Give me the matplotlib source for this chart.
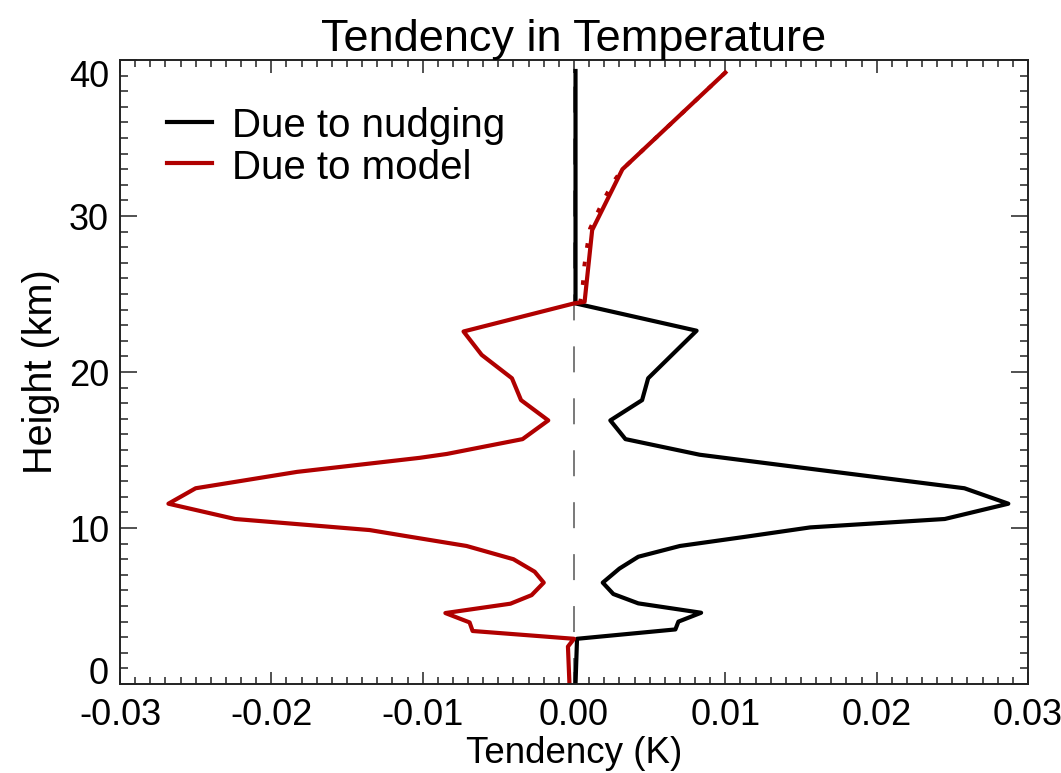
import matplotlib
matplotlib.use("Agg")
import matplotlib.pyplot as plt
from matplotlib.ticker import MultipleLocator

plt.rcParams['font.family'] = ['Liberation Sans', 'DejaVu Sans']

# height levels (km) and tendencies (K)
nudge_z = [0.0, 2.9, 3.5, 4.0, 4.57, 5.17, 5.77, 6.5, 7.4, 8.16, 8.85, 9.45,
           10.04, 10.58, 11.56, 12.55, 13.8, 14.7, 15.7, 16.9, 18.2, 19.6,
           22.65, 24.4, 39.3]
nudge_x = [0.0001, 0.0002, 0.0067, 0.0069, 0.0084, 0.00425, 0.0026, 0.0019,
           0.0030, 0.00425, 0.0070, 0.0114, 0.0156, 0.0245, 0.0287, 0.0258,
           0.0156, 0.0083, 0.0034, 0.0024, 0.0045, 0.0049, 0.0081, 0.0001,
           0.0001]

model_z = [0.0, 2.4, 2.9, 3.4, 3.95, 4.55, 5.15, 5.7, 6.5, 7.2, 8.0, 8.85,
           9.5, 9.87, 10.58, 11.56, 12.55, 13.6, 14.5, 14.75, 15.7,
           16.9, 18.2, 19.6, 21.1, 22.6, 24.4, 24.5, 29.1, 33.0, 39.2]
model_x = [-0.0003, -0.0004, 0.0000, -0.0067, -0.0069, -0.0085, -0.0042,
           -0.0028, -0.0020, -0.0026, -0.0040, -0.0071, -0.0112,
           -0.0135, -0.0224, -0.0268, -0.0250, -0.0183, -0.0102, -0.0084,
           -0.0034, -0.0017, -0.0035, -0.0041, -0.0061, -0.0073, 0.0000,
           0.0007, 0.0012, 0.0032, 0.0100]

# dotted model curve, only visible above the tropopause
dot_z = [24.4, 25.6, 26.8, 27.9, 29.2, 30.2, 31.2, 32.2, 33.0, 39.2]
dot_x = [0.0004, 0.00058, 0.00068, 0.00084, 0.00106, 0.00154, 0.00205,
         0.0026, 0.0032, 0.0100]

red = '#b00000'

fig = plt.figure(figsize=(10.61, 7.73), dpi=100)
ax = fig.add_axes([0.1131, 0.1151, 0.8558, 0.8072])

ax.plot([0, 0], [0, 40], color='#555555', lw=1.1, linestyle=(0, (17, 17)))
ax.plot(dot_x, dot_z, color=red, lw=2.8, linestyle=(0, (1.2, 3.6)))
ax.plot(nudge_x, nudge_z, color='black', lw=3)
ax.plot(model_x, model_z, color=red, lw=3)

ax.set_xlim(-0.03, 0.03)
ax.set_ylim(0, 40)
ax.set_xticks([-0.03, -0.02, -0.01, 0.0, 0.01, 0.02, 0.03])
ax.set_xticklabels(['-0.03', '-0.02', '-0.01', '0.00', '0.01', '0.02', '0.03'])
ax.set_yticks([0, 10, 20, 30, 40])
ax.xaxis.set_minor_locator(MultipleLocator(0.001))
ax.yaxis.set_minor_locator(MultipleLocator(1))

ax.tick_params(axis='both', which='both', direction='in', top=True, right=True,
               labelsize=26, width=1.1, color='#222222')
ax.tick_params(axis='x', which='major', length=9, pad=10)
ax.tick_params(axis='x', which='minor', length=5.3)
ax.tick_params(axis='y', which='major', length=12, pad=8)
ax.tick_params(axis='y', which='minor', length=6)
for s in ax.spines.values():
    s.set_linewidth(1.4)
    s.set_color('#222222')

ylabs = ax.get_yticklabels()
ylabs[0].set_verticalalignment('baseline')
ylabs[-1].set_verticalalignment('top')

ax.set_title('Tendency in Temperature', fontsize=32.5, pad=4)
ax.set_xlabel('Tendency (K)', fontsize=26.5, labelpad=2)
ax.set_ylabel('Height (km)', fontsize=28.5, labelpad=6)

# legend drawn by hand
ax.plot([0.0518, 0.1013], [0.901, 0.901], color='black', lw=3,
        transform=ax.transAxes)
ax.plot([0.0518, 0.1013], [0.8345, 0.8345], color=red, lw=3,
        transform=ax.transAxes)
ax.text(0.1233, 0.8766, 'Due to nudging', fontsize=29, va='baseline',
        transform=ax.transAxes)
ax.text(0.1233, 0.8099, 'Due to model', fontsize=29, va='baseline',
        transform=ax.transAxes)

fig.savefig('out.png', dpi=100)
